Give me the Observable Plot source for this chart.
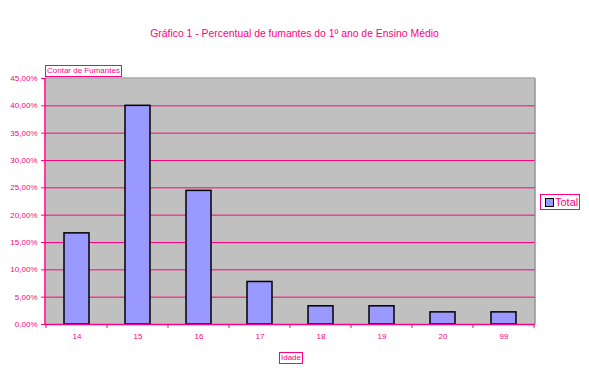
<!DOCTYPE html>
<html><head><meta charset="utf-8">
<script src="https://cdn.jsdelivr.net/npm/d3@7"></script>
<script src="https://cdn.jsdelivr.net/npm/@observablehq/plot@0.6"></script>
<style>
body{margin:0;background:#fff;font-family:"Liberation Sans",Arial,sans-serif;}
#wrap{position:relative;width:589px;height:368px;}
.lbl{position:absolute;color:#FF0080;white-space:nowrap;}
.box{border:1px solid #FF0080;background:#fff;padding:0 1px;line-height:10px;}
</style></head><body>
<div id="wrap"></div>
<script>
const categories = ["14","15","16","17","18","19","20","99"];
const values = [0.1667,0.4000,0.2444,0.0778,0.0333,0.0333,0.0222,0.0222];
const yTicks = [0,0.05,0.10,0.15,0.20,0.25,0.30,0.35,0.40,0.45];
const title = "Gráfico 1 - Percentual de fumantes do 1º ano de Ensino Médio";
const seriesName = "Total";
const yTitle = "Contar de Fumantes";
const xTitle = "Idade";

const pink = "#FF0080";
const data = categories.map((c,i)=>({idade:c, v:values[i]}));
const fmt = d => (d*100).toFixed(2).replace(".",",") + "%";

const boundaryTicks = (index, scales, values, dims) => {
  const x = scales.x;
  const n = categories.length;
  const plotW = dims.width - dims.marginLeft - dims.marginRight;
  const step = typeof x.step === "function" ? x.step() : plotW / n;
  const bw = typeof x.bandwidth === "function" ? x.bandwidth() : 0;
  const g = d3.create("svg:g");
  const y0 = dims.height - dims.marginBottom;
  const pos = categories.map(c => x(c) + bw/2 - step/2);
  pos.push(x(categories[n-1]) + bw/2 + step/2);
  pos.forEach(cx => {
    g.append("line").attr("x1",cx).attr("x2",cx).attr("y1",y0).attr("y2",y0+4).attr("stroke",pink);
  });
  return g.node();
};
const frameEdges = (index, scales, values, d) => {
  const g = d3.create("svg:g");
  const xl = d.marginLeft, xr = d.width - d.marginRight, yt = d.marginTop, yb = d.height - d.marginBottom;
  g.append("line").attr("x1",xr).attr("x2",xr).attr("y1",yt).attr("y2",yb).attr("stroke","#808080");
  g.append("line").attr("x1",xl).attr("x2",xr).attr("y1",yt).attr("y2",yt).attr("stroke","#808080");
  return g.node();
};
const leftAxisLine = (index, scales, values, d) => {
  const g = d3.create("svg:line");
  g.attr("x1",d.marginLeft).attr("x2",d.marginLeft).attr("y1",d.marginTop).attr("y2",d.height-d.marginBottom).attr("stroke",pink).attr("stroke-width",1.5);
  return g.node();
};

const chart = Plot.plot({
  width: 589, height: 368,
  marginLeft: 45, marginRight: 54, marginTop: 78, marginBottom: 44,
  style: {fontFamily: "Liberation Sans, Arial, sans-serif", fontSize: "8px", color: pink, background: "#fff"},
  x: {domain: categories, paddingInner: 0.59, paddingOuter: 0.295, label: null},
  y: {domain: [0, 0.45], label: null},
  marks: [
    Plot.frame({fill: "#C0C0C0", stroke: null}),
    Plot.ruleY(yTicks.slice(1, -1), {stroke: pink, strokeWidth: 1}),
    frameEdges,
    Plot.barY(data, {x: "idade", y: "v", fill: "#9999FF", stroke: "#000", strokeWidth: 1.5}),
    Plot.ruleY([0], {stroke: pink, strokeWidth: 1.5}),
    leftAxisLine,
    Plot.axisY({ticks: yTicks, tickFormat: fmt, tickSize: 4, tickPadding: 4, stroke: pink, fill: pink, label: null}),
    Plot.axisX({tickSize: 0, tickPadding: 9, fill: pink, label: null}),
    boundaryTicks
  ]
});
document.getElementById("wrap").appendChild(chart);

const wrap = document.getElementById("wrap");
const add = (txt, css, cls) => { const d = document.createElement("div"); d.className = "lbl " + (cls||""); d.textContent = txt; Object.assign(d.style, css); wrap.appendChild(d); return d; };
add(title, {left:"0px", width:"589px", textAlign:"center", top:"28px", fontSize:"10.4px"});
add(yTitle, {left:"45px", top:"65px", fontSize:"8px"}, "box");
add(xTitle, {left:"279px", top:"352px", fontSize:"8px"}, "box");
const lg = document.createElement("div");
lg.className = "lbl box";
Object.assign(lg.style, {left:"540px", top:"194px", fontSize:"11px", lineHeight:"14px", padding:"0 1px 0 4px", display:"flex", alignItems:"center", gap:"1px"});
const sw = document.createElement("span");
Object.assign(sw.style, {display:"inline-block", width:"7px", height:"7px", background:"#9999FF", border:"1px solid #000"});
lg.appendChild(sw);
lg.appendChild(document.createTextNode(seriesName));
wrap.appendChild(lg);
</script>
</body></html>
